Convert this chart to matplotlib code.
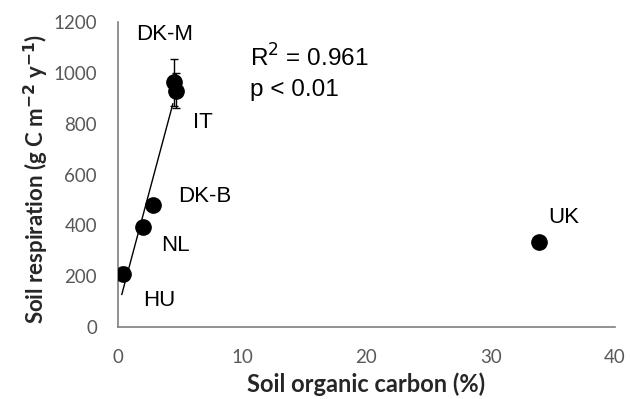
import numpy as np
import matplotlib
matplotlib.use("Agg")
from matplotlib import pyplot as plt

sites = ["HU", "NL", "DK-B", "DK-M", "IT", "UK"]
soc = [0.4, 2.0, 2.8, 4.5, 4.7, 33.9]
resp = [210, 393, 482, 962, 930, 334]
err = [25, 0, 0, 92, 68, 0]

# label anchor points (left edge, vertical centre) in data units
lab_x = [2.0, 3.45, 4.85, 1.45, 6.05, 34.6]
lab_y = [106, 323, 512, 1149, 803, 433]

# trendline fitted without UK
fit_x = np.array(soc[:5])
fit_y = np.array(resp[:5])
slope, icept = np.polyfit(fit_x, fit_y, 1)

grey = "#595959"
fig = plt.figure(figsize=(6.3, 3.99), dpi=100)
ax = fig.add_axes([0.187, 0.180, 0.789, 0.765])

xs = np.array([0.32, 4.43])
ax.plot(xs, slope * xs + icept, color="black", lw=1.0, zorder=2)
ax.errorbar(soc, resp, yerr=err, fmt="o", color="black", ms=11,
            ecolor="black", elinewidth=1.0, capsize=3, capthick=1.0, zorder=3)

for s, x, y in zip(sites, lab_x, lab_y):
    ax.text(x, y, s, fontsize=16, family="Liberation Sans", ha="left", va="center")

ax.text(10.6, 1058, "R$^{2}$ = 0.961", fontsize=17.5, family="Liberation Sans",
        ha="left", va="center")
ax.text(10.6, 932, "p < 0.01", fontsize=17.5, family="Liberation Sans",
        ha="left", va="center")

ax.set_xlim(0, 40)
ax.set_ylim(0, 1200)
ax.set_xticks([0, 10, 20, 30, 40])
ax.set_yticks(range(0, 1201, 200))
ax.tick_params(length=0, labelsize=13.5, labelcolor=grey)
ax.tick_params(axis="x", pad=16)
ax.tick_params(axis="y", pad=15)
for lab in ax.get_xticklabels() + ax.get_yticklabels():
    lab.set_family("Lato")
for side in ["top", "right"]:
    ax.spines[side].set_visible(False)
for side in ["left", "bottom"]:
    ax.spines[side].set_color("#7f7f7f")
    ax.spines[side].set_linewidth(1.2)

ax.set_xlabel("Soil organic carbon (%)", fontsize=17, family="Lato",
              fontweight="bold", color="#262626", labelpad=4)
ax.set_ylabel("Soil respiration (g C m$^{\\mathbf{-2}}$ y$^{\\mathbf{-1}}$)", fontsize=16,
              family="Lato", fontweight="bold", color="#262626", labelpad=6)
ax.yaxis.set_label_coords(-0.135, 0.485)

fig.savefig("out.png", dpi=100)
